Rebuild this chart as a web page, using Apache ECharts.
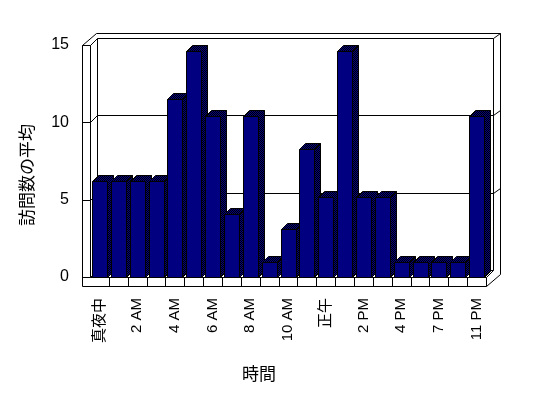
<!DOCTYPE html>
<html><head><meta charset="utf-8">
<script src="https://cdn.jsdelivr.net/npm/echarts@6/dist/echarts.min.js"></script>
<style>html,body{margin:0;padding:0;background:#fff}#c{width:548px;height:398px}</style>
</head><body><div id="c"></div>
<script>
// ---- data ----
const categories = ['真夜中','1 AM','2 AM','3 AM','4 AM','5 AM','6 AM','7 AM','8 AM','9 AM','10 AM','11 AM','正午','1 PM','2 PM','3 PM','4 PM','5 PM','7 PM','9 PM','11 PM'];
const values = [6.2,6.2,6.2,6.2,11.5,14.6,10.4,4.1,10.4,0.95,3.1,8.3,5.2,14.6,5.2,5.2,0.95,0.95,0.95,0.95,10.4];
const yTicks = [0,5,10,15];
const yTitle = '訪問数の平均';
const xTitle = '時間';

// ---- styles ----
const FONT = '"Liberation Sans", Arial, "Noto Sans CJK JP", sans-serif';
const NAVY = '#000080';
const pc = document.createElement('canvas'); pc.width = 2; pc.height = 2;
const g = pc.getContext('2d');
g.fillStyle = NAVY; g.fillRect(0,0,2,2);
g.fillStyle = '#000'; g.fillRect(0,0,1,1); g.fillRect(1,1,1,1);
const dither = {image: pc, repeat: 'repeat'};

const D = [7,-7];   // wall depth
const T = [7,-5];   // back wall thickness
const W = 8;        // left wall thickness
const F = 9;        // floor thickness
const BD = [6,-6];  // bar depth

const r = v => Math.round(v) + 0.5;
function line(pts){
  return {type:'polyline', shape:{points: pts.map(p=>[r(p[0]), r(p[1])])},
          style:{stroke:'#000', lineWidth:1, fill:null}, silent:true};
}

function renderFrame(params, api){
  const band = api.size([1,0])[0];
  const n = categories.length;
  const xL = api.coord([0,0])[0] - band/2;
  const xR = api.coord([n-1,0])[0] + band/2;
  const y = v => api.coord([0,v])[1];
  const yB = y(yTicks[0]), yT = y(yTicks[yTicks.length-1]);
  const els = [];
  // back wall inner face
  els.push(line([[xL+D[0], yT+D[1]], [xR+D[0], yT+D[1]], [xR+D[0], yB+D[1]]]));
  // back wall outer
  els.push(line([[xL-W+D[0]+T[0], yT+D[1]+T[1]], [xR+D[0]+T[0], yT+D[1]+T[1]], [xR+D[0]+T[0], yB+F+D[1]+T[1]]]));
  els.push(line([[xR+D[0], yT+D[1]], [xR+D[0]+T[0], yT+D[1]+T[1]]]));
  // left wall
  els.push(line([[xL-W, yB+F], [xL-W, yT], [xL, yT], [xL, yB]]));
  els.push(line([[xL, yT], [xL+D[0], yT+D[1]], [xL+D[0], yB+D[1]]]));
  els.push(line([[xL-W, yT], [xL-W+D[0]+T[0], yT+D[1]+T[1]]]));
  // floor
  els.push(line([[xL-W, yB+F], [xR, yB+F], [xR, yB], [xL, yB]]));
  els.push(line([[xL, yB], [xL+D[0], yB+D[1]], [xR+D[0], yB+D[1]]]));
  els.push(line([[xR, yB], [xR+D[0], yB+D[1]]]));
  els.push(line([[xR, yB+F], [xR+D[0]+T[0], yB+F+D[1]+T[1]]]));
  for (let i = 1; i < n; i++) {
    const x = xL + i*band;
    els.push(line([[x, yB], [x, yB+F]]));
  }
  // gridlines
  yTicks.forEach(v => {
    const yy = y(v);
    els.push(line([[xL-W, yy], [xL, yy]]));
    if (v !== yTicks[0] && v !== yTicks[yTicks.length-1]) {
      els.push(line([[xL, yy], [xL+D[0], yy+D[1]], [xR+D[0], yy+D[1]], [xR+D[0]+T[0], yy+D[1]+T[1]]]));
    }
  });
  return {type:'group', children: els};
}

function renderBar(params, api){
  const i = api.value(0), v = api.value(1);
  const top = api.coord([i, v]);
  const bot = api.coord([i, 0]);
  const band = api.size([1,0])[0];
  const w = Math.round(band*0.8);
  const x0 = r(top[0] - w/2), x1 = x0 + w;
  const yt = r(top[1]), yb = r(bot[1]);
  const st = {stroke:'#000', lineWidth:1};
  return {type:'group', children:[
    {type:'polygon', shape:{points:[[x1,yt],[x1+BD[0],yt+BD[1]],[x1+BD[0],yb+BD[1]],[x1,yb]]}, style:Object.assign({fill:dither}, st)},
    {type:'polygon', shape:{points:[[x0,yt],[x1,yt],[x1+BD[0],yt+BD[1]],[x0+BD[0],yt+BD[1]]]}, style:Object.assign({fill:dither}, st)},
    {type:'rect', shape:{x:x0, y:yt, width:w, height:yb-yt}, style:Object.assign({fill:NAVY}, st)}
  ]};
}

const chart = echarts.init(document.getElementById('c'), null, {renderer:'canvas'});
chart.setOption({
  animation:false,
  backgroundColor:'#fff',
  grid:{left:90, right:62, top:45, bottom:121},
  xAxis:{type:'category', data:categories,
    axisLine:{show:false}, axisTick:{show:false}, splitLine:{show:false},
    axisLabel:{rotate:90, interval:1, margin:21, fontSize:15, color:'#000', fontFamily:FONT}},
  yAxis:{type:'value', min:yTicks[0], max:yTicks[yTicks.length-1], interval:5,
    axisLine:{show:false}, axisTick:{show:false}, splitLine:{show:false},
    axisLabel:{margin:21, fontSize:16, color:'#000', fontFamily:FONT}},
  graphic:[
    {type:'text', left:'auto', x:28, y:175, rotation:Math.PI/2,
     style:{text:yTitle, fontSize:17, fontFamily:FONT, fill:'#000', align:'center', verticalAlign:'middle'}},
    {type:'text', x:259, y:375,
     style:{text:xTitle, fontSize:17, fontFamily:FONT, fill:'#000', align:'center', verticalAlign:'middle'}}
  ],
  series:[
    {type:'custom', renderItem:renderFrame, data:[[0,0]], silent:true, z:1},
    {type:'custom', renderItem:renderBar, data:values.map((v,i)=>[i,v]), encode:{x:0,y:1}, z:2}
  ]
});
</script>
</body></html>
